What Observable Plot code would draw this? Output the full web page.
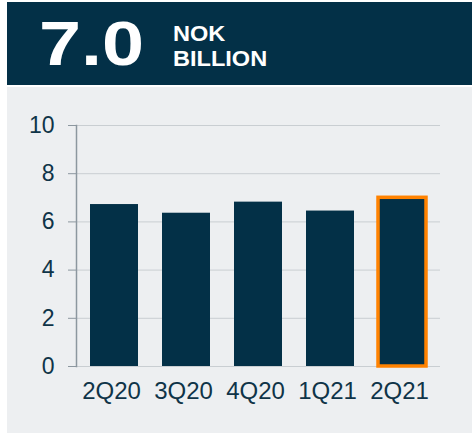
<!DOCTYPE html>
<html>
<head>
<meta charset="utf-8">
<script src="https://cdn.jsdelivr.net/npm/d3@7"></script>
<script src="https://cdn.jsdelivr.net/npm/@observablehq/plot@0.6"></script>
<style>
  html, body { margin: 0; padding: 0; background: #ffffff; }
  body { width: 472px; height: 433px; position: relative; overflow: hidden; font-family: "Liberation Sans", Arial, sans-serif; }
  #header { position: absolute; left: 7px; top: 2px; width: 465px; height: 83px; background: #033047; color: #fff; }
  #big { position: absolute; left: 32px; top: 1px; font-size: 63px; font-weight: bold; letter-spacing: 0px; line-height: 80px; transform: scaleX(1.2); transform-origin: left center; }
  #unit { position: absolute; left: 166px; top: 19px; font-size: 22px; font-weight: bold; line-height: 25px; transform: scaleX(1.07); transform-origin: left center; }
  #panel { position: absolute; left: 7px; top: 87px; width: 465px; height: 346px; background: #edeff1; }
  #chart { position: absolute; left: 0; top: 87px; }
</style>
</head>
<body>
<div id="header"><div id="big">7.0</div><div id="unit">NOK<br>BILLION</div></div>
<div id="panel"></div>
<div id="chart"></div>
<script>
const quarters = ["2Q20", "3Q20", "4Q20", "1Q21", "2Q21"];
const values = [6.72, 6.36, 6.82, 6.45, 7.0];
const highlight = ["2Q21"];
const yTicks = [0, 2, 4, 6, 8, 10];

const data = quarters.map((q, i) => ({ q, v: values[i], hi: highlight.includes(q) }));

const plot = Plot.plot({
  width: 472,
  height: 346,
  marginTop: 38,
  marginBottom: 67,
  marginLeft: 76,
  marginRight: 32,
  style: { background: "transparent", color: "#0f3448", fontFamily: "Liberation Sans, Arial, sans-serif" },
  x: { domain: quarters, paddingInner: 0.33, paddingOuter: 0.165, label: null },
  y: { domain: [0, 10], label: null },
  marks: [
    Plot.gridY(yTicks, { stroke: "#c9ced2", strokeOpacity: 1, strokeWidth: 1 }),
    Plot.frame({ anchor: "left", stroke: "#8c979f", strokeWidth: 1.5 }),
    Plot.barY(data, {
      x: "q", y: "v", fill: "#033047",
      stroke: d => d.hi ? "#ff8200" : "none",
      strokeWidth: 3.5
    }),
    Plot.axisY(yTicks, { tickSize: 8, tickPadding: 14, fontSize: 23, stroke: "#8c979f", fill: "#0f3448", label: null }),
    Plot.axisX({ tickSize: 0, tickPadding: 15, fontSize: 24, dx: -3, fill: "#0f3448", label: null })
  ]
});
document.getElementById("chart").appendChild(plot);
</script>
</body>
</html>
